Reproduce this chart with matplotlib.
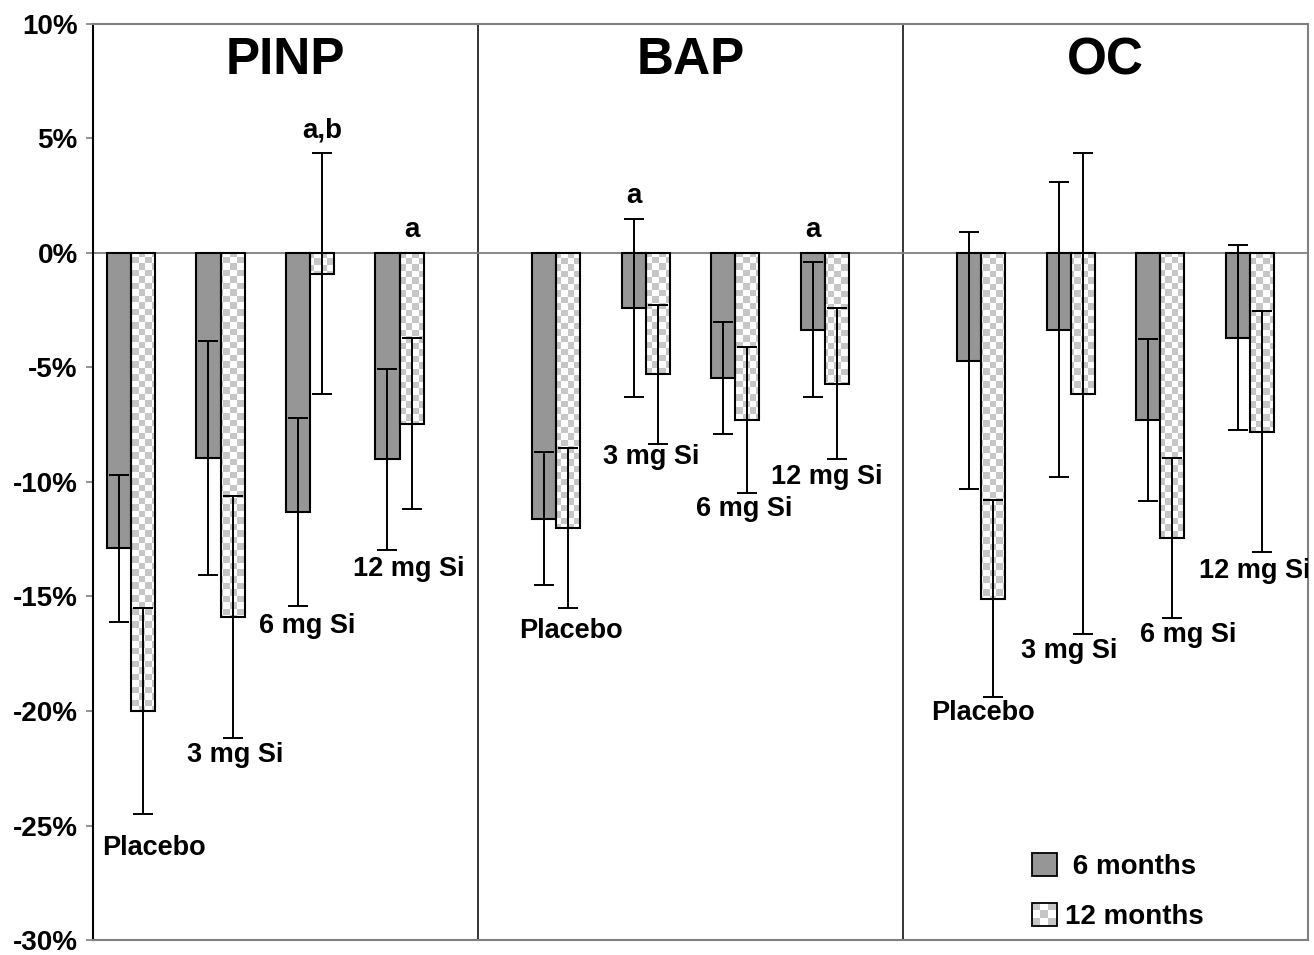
import numpy as np
import matplotlib
matplotlib.use("Agg")
import matplotlib.pyplot as plt
from matplotlib.patches import Rectangle, Patch
from matplotlib.colors import ListedColormap
from matplotlib.ticker import FuncFormatter

# === DATA (% change from baseline) ===
panels = ["PINP", "BAP", "OC"]
groups = ["Placebo", "3 mg Si", "6 mg Si", "12 mg Si"]

m6_pinp = [-12.9, -8.95, -11.3, -9.0]
m6_pinp_err = [3.2, 5.1, 4.1, 3.95]
m12_pinp = [-20.0, -15.9, -0.9, -7.45]
m12_pinp_err = [4.5, 5.3, 5.25, 3.75]

m6_bap = [-11.6, -2.4, -5.45, -3.35]
m6_bap_err = [2.9, 3.9, 2.45, 2.95]
m12_bap = [-12.0, -5.3, -7.3, -5.7]
m12_bap_err = [3.5, 3.05, 3.2, 3.3]

m6_oc = [-4.7, -3.35, -7.3, -3.7]
m6_oc_err = [5.6, 6.45, 3.55, 4.05]
m12_oc = [-15.1, -6.15, -12.45, -7.8]
m12_oc_err = [4.3, 10.5, 3.5, 5.25]

# significance marks: (panel, group, series, text)
marks = [("PINP", "6 mg Si", "12 months", "a,b"),
         ("PINP", "12 mg Si", "12 months", "a"),
         ("BAP", "3 mg Si", "6 months", "a"),
         ("BAP", "12 mg Si", "6 months", "a")]

# === LAYOUT ===
label_y = [[-26.0, -21.9, -16.3, -13.8],
           [-16.5, -8.9, -11.2, -9.8],
           [-20.1, -17.4, -16.7, -13.9]]
label_dx = [[0.25, 0.16, -0.03, 0.1],
            [0.17, 0.06, 0.1, 0.02],
            [0.02, -0.02, 0.31, 0.05]]

GRAY = "#969696"
CHECK = "#c6c6c6"
AXGRAY = "#808080"
gap = 1.75
bw = 0.27

plt.rcParams["font.family"] = ["Liberation Sans", "DejaVu Sans"]
plt.rcParams["font.weight"] = "bold"

m6 = [m6_pinp, m6_bap, m6_oc]
m6e = [m6_pinp_err, m6_bap_err, m6_oc_err]
m12 = [m12_pinp, m12_bap, m12_oc]
m12e = [m12_pinp_err, m12_bap_err, m12_oc_err]

fig = plt.figure(figsize=(13.14, 9.55), dpi=100)
ax = fig.add_axes([0.0708, 0.0157, 0.9246, 0.9592])
xlim = (-0.425, 13.15)
ylim = (-30, 10)

# checker texture for the 12-month bars (~6.5 px squares)
ny, nx = 141, 187
yy, xx = np.mgrid[0:ny, 0:nx]
checker = ((xx + yy) % 2).astype(float)
cmap = ListedColormap([CHECK, "white"])

centers = {}
for p, name in enumerate(panels):
    pos = np.arange(len(groups)) + p * (3 + gap)
    for g, gname in enumerate(groups):
        centers[(name, gname)] = pos[g]
    ax.bar(pos - bw / 2, m6[p], bw, color=GRAY, edgecolor="black", lw=1.5, zorder=3)
    bars = ax.bar(pos + bw / 2, m12[p], bw, facecolor="none", edgecolor="black", lw=1.5, zorder=3)
    for b in bars:
        im = ax.imshow(checker, cmap=cmap, extent=(*xlim, *ylim), origin="lower",
                       aspect="auto", interpolation="nearest", zorder=2)
        im.set_clip_path(b)
    ax.errorbar(pos - bw / 2, m6[p], yerr=m6e[p], fmt="none", ecolor="black",
                elinewidth=1.4, capsize=7.5, capthick=1.4, zorder=4)
    ax.errorbar(pos + bw / 2, m12[p], yerr=m12e[p], fmt="none", ecolor="black",
                elinewidth=1.4, capsize=7.5, capthick=1.4, zorder=4)
    for g, gname in enumerate(groups):
        ax.text(pos[g] + label_dx[p][g], label_y[p][g], gname, ha="center", va="center",
                fontsize=19.5, fontweight="bold", clip_on=True)
    # panel title and separator
    left = xlim[0] if p == 0 else p * (3 + gap) - gap / 2
    right = xlim[1] if p == len(panels) - 1 else p * (3 + gap) + 3 + gap / 2
    ax.text((left + right) / 2, 8.4, name, ha="center", va="center", fontsize=37, fontweight="bold")
    if p > 0:
        ax.axvline(left, color="black", lw=1.1, zorder=1)

for pname, gname, series, txt in marks:
    p = panels.index(pname)
    g = groups.index(gname)
    x = centers[(pname, gname)]
    if series == "6 months":
        x, top = x - bw / 2, m6[p][g] + m6e[p][g]
    else:
        x, top = x + bw / 2, m12[p][g] + m12e[p][g]
    ax.text(x, max(top, 0) + 1.0, txt, ha="center", va="center", fontsize=20, fontweight="bold")

ax.axhline(0, color=AXGRAY, lw=1.3, zorder=1)
ax.set_xlim(*xlim)
ax.set_ylim(*ylim)
ax.set_xticks([])
ax.set_yticks(np.arange(-30, 11, 5))
ax.yaxis.set_major_formatter(FuncFormatter(lambda v, _: f"{v:.0f}%"))
ax.tick_params(axis="y", length=5, width=1.2, color=AXGRAY, labelsize=20, pad=6)
for lab in ax.get_yticklabels():
    lab.set_fontweight("bold")
for s in ["top", "right", "bottom"]:
    ax.spines[s].set_color(AXGRAY)
    ax.spines[s].set_linewidth(1.5)
ax.spines["left"].set_color("black")
ax.spines["left"].set_linewidth(1.5)


class CheckerHandler:
    def legend_artist(self, legend, orig_handle, fontsize, handlebox):
        x0, y0 = -handlebox.xdescent, -handlebox.ydescent
        w, h = handlebox.width, handlebox.height
        tr = handlebox.get_transform()
        n = 3
        for i in range(n):
            for j in range(n):
                fc = CHECK if (i + j) % 2 == 0 else "white"
                handlebox.add_artist(Rectangle((x0 + i * w / n, y0 + j * h / n), w / n, h / n,
                                               facecolor=fc, edgecolor="none", transform=tr))
        frame = Rectangle((x0, y0), w, h, facecolor="none", edgecolor="black", lw=1.3, transform=tr)
        handlebox.add_artist(frame)
        return frame


h6 = Patch(facecolor=GRAY, edgecolor="black", lw=1.3)
h12 = Patch(facecolor="white", edgecolor="black")
ax.legend([h6, h12], [" 6 months", "12 months"], handler_map={h12: CheckerHandler()},
          loc="lower left", bbox_to_anchor=(0.752, -0.016), frameon=False,
          prop={"size": 20, "weight": "bold"}, handlelength=0.9, handleheight=0.9,
          handletextpad=0.3, labelspacing=0.8)

fig.savefig("out.png", dpi=100)
